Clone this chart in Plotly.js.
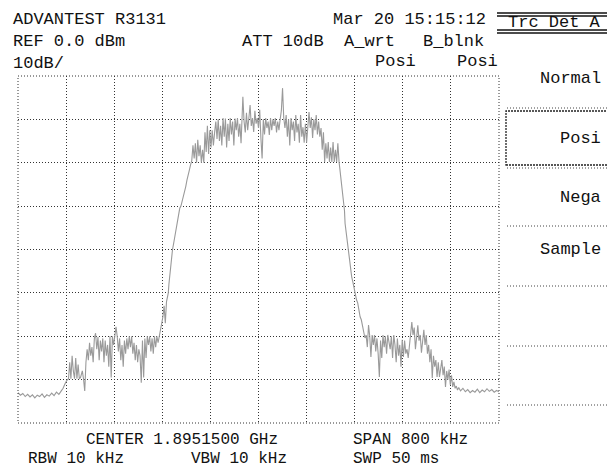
<!DOCTYPE html>
<html>
<head>
<meta charset="utf-8">
<script src="https://cdn.plot.ly/plotly-3.0.1.min.js"></script>
<style>
html,body{margin:0;padding:0;background:#fff;}
#chart{width:607px;height:469px;}
</style>
</head>
<body>
<div id="chart"></div>
<script>
// ---- DATA (frequency offset from center in kHz, level in dBm) ----
const freqKHz = [
-400,-396,-392,-388,-384,-380,-376,-372,-368,-364,-360,-356,-352,-348,-344,-340,-336,-332,-328,-325,-322,-319,
-316,-314,-312,-310,-308,-306,-304,-302,-300,-298,-296,-293,-291,-289,-287,-285,-283,-281,-279,-277,-275,-273,-271,-269,-267,-265,-263,-261,-259,-257,-255,-253,-251,-249,-247,-245,-243,-241,-239,-237,-235,-233,-231,-229,-227,-225,-223,-221,-219,-217,-215,-213,-211,-209,-207,-205,-203,-201,-199,-197,-195,-193,-191,-189,-187,-185,-183,-181,-179,-177,-175,-173,-171,-169,-167,-165,
-162,-159,-157,-155,-153,-150,-149,-147,-145,-143,-141,-139,-137,-135,-133,-131,-129,-127,-125,-123,-121,-119,-117,-115,-113,
-111,-109,-107,-105,-103,-101,-99,-97,-95,-93,-91,-89,-87,-85,-83,-81,-79,-77,-75,-73,-71,-69,-67,-65,-63,-61,-59,-57,-55,-53,-51,-49,-47,-45,-43,-41,-39,-37,-35,-33,
-31,-29,-27,-26,-24,-22,-20,-18,-16,-14,-12,-10,-8,-6,-4,-2,0,2,4,6,8,10,12,14,16,18,20,22,24,26,28,30,32,34,36,38,40,42,44,46,48,50,52,54,56,58,60,62,64,66,68,70,72,74,76,78,80,82,84,86,88,90,92,94,96,98,100,102,104,106,108,110,112,114,116,118,120,122,124,126,128,130,132,134,
136,138,140,142,143,144,146,148,149,151,153,155,157,159,161,163,165,167,169,171,173,175,177,
179,181,183,185,187,189,191,193,195,197,199,201,203,205,207,209,211,213,215,217,219,221,223,225,227,229,231,233,235,237,239,241,243,245,247,249,251,253,255,257,259,261,263,265,267,269,271,273,275,277,279,281,283,285,287,289,291,293,295,297,299,301,303,305,307,309,311,313,315,317,319,321,323,325,327,329,331,333,336,340,344,348,352,356,360,364,368,372,376,380,384,388,392,396,400
];
const levelDbm = [
-73.0,-73.6,-73.2,-73.9,-73.4,-74.0,-73.5,-74.2,-73.6,-73.9,-73.3,-74.1,-73.5,-73.8,-73.1,-73.7,-72.9,-73.4,-72.6,-72.0,-71.0,-70.2,
-69.8,-66.0,-69.8,-64.5,-68.0,-69.8,-65.0,-69.8,-66.5,-69.8,-69.5,-68.0,-69.9,-72.6,-66.0,-63.0,-65.5,-61.5,-64.5,-62.5,-66.0,-60.5,-59.3,-63.0,-60.2,-65.5,-61.0,-63.5,-60.5,-66.0,-61.0,-64.5,-62.0,-67.0,-60.0,-69.5,-60.0,-62.0,-60.0,-57.8,-60.0,-63.5,-60.5,-65.5,-62.0,-67.0,-61.0,-64.0,-60.5,-63.0,-60.0,-62.5,-60.0,-64.0,-61.5,-65.5,-62.0,-66.0,-63.0,-64.5,-70.7,-61.0,-69.5,-60.5,-65.0,-60.0,-62.0,-60.0,-63.5,-60.5,-64.0,-60.0,-62.5,-60.0,-61.5,-60.0,
-58.0,-55.5,-53.0,-57.0,-52.0,-50.0,-48.0,-45.0,-42.4,-40.0,-38.5,-37.0,-35.5,-34.0,-32.5,-30.5,-30.0,-29.0,-28.0,-27.0,-25.5,-24.0,-22.5,-21.7,-20.5,
-19.5,-16.0,-19.0,-15.5,-20.0,-14.7,-18.5,-16.0,-20.0,-17.0,-20.0,-13.0,-17.5,-11.5,-18.0,-12.5,-16.5,-12.5,-16.0,-13.0,-10.5,-14.5,-10.0,-15.0,-11.5,-16.0,-9.7,-14.0,-9.8,-16.5,-11.0,-15.0,-9.7,-13.5,-10.5,-16.0,-9.8,-12.5,-9.7,-14.0,
-11.0,-15.5,-10.0,-4.8,-10.5,-13.0,-8.5,-12.5,-9.7,-6.7,-11.5,-9.7,-12.9,-8.0,-11.0,-9.7,-12.0,-7.8,-14.3,-19.0,-10.0,-13.5,-9.7,-12.0,-10.5,-13.6,-9.7,-12.5,-10.0,-11.5,-9.7,-13.0,-10.5,-12.5,-10.0,-8.0,-2.8,-9.7,-12.0,-9.0,-14.0,-10.0,-16.0,-9.7,-12.5,-10.5,-15.0,-9.0,-13.0,-11.0,-15.4,-9.0,-14.0,-11.8,-15.4,-11.0,-15.4,-11.8,-8.3,-12.0,-9.5,-14.3,-10.0,-12.5,-9.0,-13.5,-10.5,-14.0,-12.0,-17.0,-13.0,-19.8,-15.5,-19.0,-15.2,-19.8,-16.5,-19.8,-15.2,-19.8,-17.0,-19.8,-15.5,-19.8,
-22.0,-24.7,-27.0,-29.3,-31.0,-34.0,-36.5,-38.0,-39.4,-42.0,-44.5,-46.3,-47.5,-49.0,-50.5,-51.6,-52.3,-54.0,-55.5,-56.2,-57.5,-59.0,-60.4,
-59.7,-62.5,-57.4,-60.0,-64.8,-59.7,-62.0,-59.7,-63.5,-60.5,-64.0,-69.4,-61.0,-65.0,-59.7,-62.5,-60.0,-64.0,-59.7,-61.5,-63.0,-60.0,-65.0,-59.7,-62.0,-66.0,-60.5,-64.5,-62.0,-67.0,-60.8,-64.8,-61.0,-64.0,-63.0,-65.0,-62.0,-59.7,-56.7,-59.7,-58.0,-63.0,-59.7,-57.5,-61.0,-59.7,-63.8,-60.0,-58.5,-62.0,-59.7,-64.0,-62.0,-66.0,-63.0,-69.6,-64.5,-67.0,-65.5,-69.4,-66.0,-69.4,-67.5,-65.5,-69.0,-67.0,-71.7,-68.0,-70.0,-67.7,-71.2,-69.0,-71.7,-70.5,-72.0,-71.5,-72.4,-71.8,-72.6,-72.0,-72.8,-72.3,-73.0,-72.5,-72.9,-72.2,-73.0,-72.4,-72.8,-72.1,-72.7,-72.3,-72.9,-72.5,-72.8
];

const headerLeft  = ["ADVANTEST R3131", "REF 0.0 dBm", "10dB/"];
const headerMid   = ["Mar 20 15:15:12", "ATT 10dB", "A_wrt", "B_blnk", "Posi", "Posi"];
const footerTexts = ["CENTER 1.8951500 GHz", "SPAN 800 kHz", "RBW 10 kHz", "VBW 10 kHz", "SWP 50 ms"];
const menuTitle   = "Trc Det A";
const menuKeys    = ["Normal", "Posi", "Nega", "Sample"];

// ---- LAYOUT helpers (pixel -> paper) ----
const L = 18, R = 499, T = 76, B = 423;
const W = 607, H = 469;
const px = x => (x - L) / (R - L);
const py = y => (B - y) / (B - T);

function txt(t, x, y, anchor, size) {
  return {text: t, xref: "paper", yref: "paper", x: px(x), y: py(y),
          xanchor: anchor || "left", yanchor: "middle", showarrow: false,
          font: {family: "Liberation Mono, DejaVu Sans Mono, monospace", size: size || 17, color: "#111"}};
}

const annotations = [
  txt(headerLeft[0], 11, 19),
  txt(headerMid[0], 331, 19),
  txt(headerLeft[1], 11, 41),
  txt(headerMid[1], 240, 41),
  txt(headerMid[2], 342, 41),
  txt(headerMid[3], 421, 41),
  txt(headerLeft[2], 11, 63),
  txt(headerMid[4], 373, 62),
  txt(headerMid[5], 455, 62),
  txt(footerTexts[0], 84, 440, "left", 16),
  txt(footerTexts[1], 351, 440, "left", 16),
  txt(footerTexts[2], 26, 459, "left", 16),
  txt(footerTexts[3], 189, 459, "left", 16),
  txt(footerTexts[4], 351, 459, "left", 16),
  txt(menuTitle, 506, 23),
  txt(menuKeys[0], 603, 78, "right"),
  txt(menuKeys[1], 603, 138, "right"),
  txt(menuKeys[2], 603, 197, "right"),
  txt(menuKeys[3], 603, 249, "right")
];

const DOT = "1px,2px";
function hline(y, x0, x1, dash, w, c) {
  return {type: "line", xref: "paper", yref: "paper", x0: px(x0), x1: px(x1), y0: py(y), y1: py(y),
          line: {color: c || "#444", width: w || 1, dash: dash || "solid"}};
}
const shapes = [
  {type: "rect", xref: "paper", yref: "paper", x0: 0, x1: 1, y0: 0, y1: 1,
   line: {color: "#333", width: 1, dash: DOT}},
  hline(13, 497, 607, "solid", 1.5, "#111"),
  hline(16, 497, 607, "solid", 1.5, "#111"),
  hline(30, 497, 607, "solid", 1.5, "#111"),
  hline(33, 497, 607, "solid", 1.5, "#111"),
  hline(108, 507, 607, DOT),
  {type: "rect", xref: "paper", yref: "paper", x0: px(506), x1: px(610), y0: py(165), y1: py(111),
   line: {color: "#222", width: 1.3, dash: "2px,1px"}},
  hline(168, 507, 607, DOT),
  hline(226, 507, 607, DOT),
  hline(286, 507, 607, DOT),
  hline(346, 507, 607, DOT),
  hline(405, 507, 607, DOT)
];

const trace = {
  x: freqKHz, y: levelDbm, type: "scatter", mode: "lines",
  line: {color: "#9a9a9a", width: 1.1, shape: "linear"},
  hoverinfo: "skip"
};

const layout = {
  width: W, height: H,
  margin: {l: L, r: W - R, t: T, b: H - B, pad: 0},
  paper_bgcolor: "#ffffff", plot_bgcolor: "#ffffff",
  showlegend: false,
  xaxis: {range: [-400, 400], tick0: -400, dtick: 80, showticklabels: false, ticks: "",
          showgrid: true, gridcolor: "#333", gridwidth: 1, griddash: DOT,
          zeroline: false, showline: false, fixedrange: true},
  yaxis: {range: [-80, 0], tick0: -80, dtick: 10, showticklabels: false, ticks: "",
          showgrid: true, gridcolor: "#333", gridwidth: 1, griddash: DOT,
          zeroline: false, showline: false, fixedrange: true},
  annotations: annotations,
  shapes: shapes
};

Plotly.newPlot("chart", [trace], layout, {displayModeBar: false, staticPlot: true});
</script>
</body>
</html>
